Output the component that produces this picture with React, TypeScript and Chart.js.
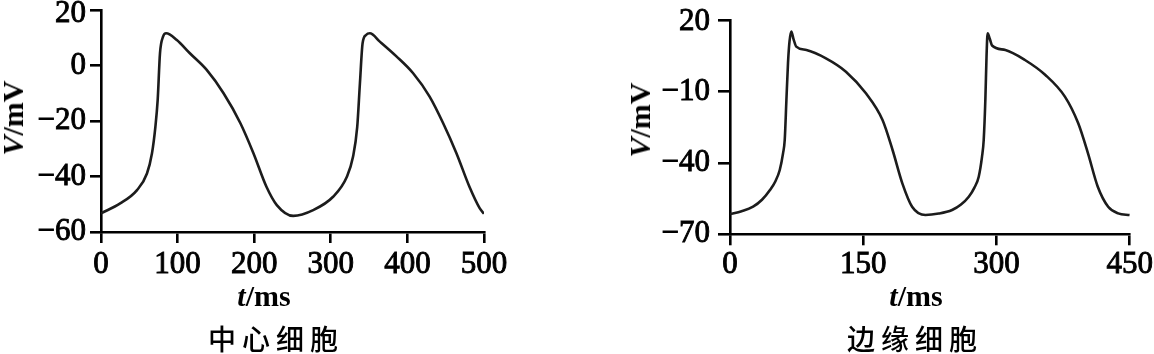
import React, { useEffect, useRef } from 'react';
import { Chart, registerables } from 'chart.js';

Chart.register(...registerables);

// ---- Data: central cell (中心细胞) ----
const centerTimes = [
  0, 25, 47, 60, 66.5, 71, 74, 77, 81, 85, 99, 116, 138, 160, 182, 199, 216, 229.5, 251,
  277, 303, 321, 329, 334.5, 338, 341.5, 346, 351, 364, 386, 407.5, 429, 446.7, 464, 481, 494.5, 500,
];
const centerVoltages = [
  -53.3, -49.7, -44.9, -38.9, -31.7, -22.1, -12.4, 4.4, 10.4, 11.6, 9.2, 4.4, -1.6, -10, -20.8, -31.6, -43.7, -50.3, -54.2,
  -52.1, -47.3, -40.1, -32.9, -22.1, -6.5, 8, 11, 11.6, 8.6, 3.2, -2.8, -11.2, -20.8, -31.6, -43.7, -51.5, -53.4,
];
const centerXTicks = [0, 100, 200, 300, 400, 500];
const centerYTicks = [-60, -40, -20, 0, 20];

// ---- Data: peripheral cell (边缘细胞) ----
const edgeTimes = [
  0, 13, 26, 36, 45, 51, 56, 59.7, 61.6, 63.5, 65.3, 67, 69, 71.5, 74.6, 86, 108, 130.5, 153, 171.7, 183, 194, 205, 220,
  235, 250, 260, 268.8, 275, 280, 283.7, 285.6, 287.5, 288.8, 290, 292.5, 295, 310, 332, 355, 377, 392, 403, 414, 425.7, 437, 450,
];
const edgeVoltages = [
  -61.5, -60.3, -58.4, -55.5, -51.4, -47.8, -43, -36, -30.4, -13.6, 2, 11, 15.1, 12, 8.8, 7.4, 3.9, -1.7, -10.8, -22, -34.6, -48.6, -58.4, -61.9,
  -61.3, -59.8, -57.5, -54.2, -50.5, -45.8, -37.4, -30.4, -13, 5, 14.4, 12, 9.3, 7.4, 3.2, -3.1, -12.2, -23.4, -36, -50, -58.4, -61.2, -61.9,
];
const edgeXTicks = [0, 150, 300, 450];
const edgeYTicks = [-70, -40, -10, 20];

const SERIF = '"Liberation Serif", "Times New Roman", serif';
const CJK = '"Noto Sans CJK SC", "Noto Sans CJK TC", sans-serif';

const fmt = (v: number | string) => String(v).replace('-', '\u2212');

interface PanelProps {
  times: number[];
  volts: number[];
  xTicks: number[];
  yTicks: number[];
  width: number;
  height: number;
  padLeftAxis: number;
  padTop: number;
  padRight: number;
  xAxisHeight: number;
  yTickLen: number;
  yTickPad: number;
  xTickLen: number;
  xTickPad: number;
  topLabelShift: number;
}

function Panel(p: PanelProps) {
  const ref = useRef<HTMLCanvasElement | null>(null);
  useEffect(() => {
    if (!ref.current) return;
    const tickFont = { family: SERIF, size: 31, weight: 'normal' as const };
    const tickCommon = {
      color: '#000',
      font: tickFont,
      textStrokeColor: '#000',
      textStrokeWidth: 0.9,
      autoSkip: false,
      callback: (v: any) => fmt(v),
    };
    // nudges the topmost y tick label slightly downward, as in the original figure
    const shiftTopLabel = {
      id: 'shiftTopLabel',
      beforeDraw(chart: any) {
        const s = chart.scales.y;
        const items = s.getLabelItems(chart.chartArea);
        const last = items[items.length - 1];
        if (last && !last.__shifted) {
          last.options.translation[1] += p.topLabelShift;
          last.__shifted = true;
        }
      },
    };
    const chart = new Chart(ref.current, {
      type: 'line',
      data: {
        datasets: [
          {
            data: p.times.map((t, i) => ({ x: t, y: p.volts[i] })),
            borderColor: '#1c1c1c',
            borderWidth: 2.6,
            pointRadius: 0,
            cubicInterpolationMode: 'monotone',
            fill: false,
          },
        ],
      },
      options: {
        animation: false,
        responsive: false,
        devicePixelRatio: 1,
        layout: { padding: { left: 0, top: p.padTop, right: p.padRight, bottom: 0 } },
        plugins: { legend: { display: false }, tooltip: { enabled: false }, title: { display: false } },
        scales: {
          x: {
            type: 'linear',
            min: p.xTicks[0],
            max: p.xTicks[p.xTicks.length - 1],
            afterBuildTicks: (s: any) => {
              s.ticks = p.xTicks.map((value) => ({ value }));
            },
            afterFit: (s: any) => {
              s.height = p.xAxisHeight;
            },
            border: { display: true, color: '#000', width: 2.6 },
            grid: {
              drawOnChartArea: false,
              drawTicks: true,
              tickLength: p.xTickLen,
              color: '#000',
              lineWidth: 2.6,
            },
            ticks: { ...tickCommon, padding: p.xTickPad, maxRotation: 0 },
          },
          y: {
            type: 'linear',
            min: p.yTicks[0],
            max: p.yTicks[p.yTicks.length - 1],
            afterBuildTicks: (s: any) => {
              s.ticks = p.yTicks.map((value) => ({ value }));
            },
            afterFit: (s: any) => {
              s.width = p.padLeftAxis;
            },
            border: { display: true, color: '#000', width: 2.6 },
            grid: {
              drawOnChartArea: false,
              drawTicks: true,
              tickLength: p.yTickLen,
              color: '#000',
              lineWidth: 2.6,
            },
            ticks: { ...tickCommon, padding: p.yTickPad },
          },
        },
      },
      plugins: [shiftTopLabel],
    } as any);
    return () => chart.destroy();
  }, []);
  return <canvas ref={ref} width={p.width} height={p.height} style={{ display: 'block', width: p.width, height: p.height }} />;
}

const textBase: React.CSSProperties = {
  position: 'absolute',
  lineHeight: 1,
  whiteSpace: 'nowrap',
  color: '#000',
};

function AxisTitleY({ x, y }: { x: number; y: number }) {
  return (
    <div
      style={{
        ...textBase,
        left: x,
        top: y,
        fontFamily: SERIF,
        fontSize: 30,
        fontWeight: 'bold',
        transform: 'translate(-50%,-50%) rotate(-90deg)',
      }}
    >
      <i>V</i>/mV
    </div>
  );
}

function AxisTitleX({ x, y }: { x: number; y: number }) {
  return (
    <div
      style={{
        ...textBase,
        left: x,
        top: y,
        fontFamily: SERIF,
        fontSize: 30,
        fontWeight: 'bold',
        transform: 'translate(-50%,-50%)',
      }}
    >
      <i>t</i>/ms
    </div>
  );
}

function Caption({ x, y, text }: { x: number; y: number; text: string }) {
  return (
    <div
      style={{
        ...textBase,
        left: x + 3,
        top: y,
        fontFamily: CJK,
        fontSize: 28,
        fontWeight: 500,
        letterSpacing: 6,
        transform: 'translate(-50%,-50%)',
      }}
    >
      {text}
    </div>
  );
}

export default function App() {
  return (
    <div
      style={{
        position: 'fixed',
        left: 0,
        top: 0,
        width: 1154,
        height: 354,
        background: '#fff',
        overflow: 'hidden',
      }}
    >
      <div style={{ position: 'absolute', left: 0, top: -30 }}>
        <Panel
          times={centerTimes}
          volts={centerVoltages}
          xTicks={centerXTicks}
          yTicks={centerYTicks}
          width={560}
          height={312}
          padLeftAxis={101}
          padTop={40}
          padRight={76}
          xAxisHeight={50}
          yTickLen={11}
          yTickPad={4}
          xTickLen={11}
          xTickPad={3}
          topLabelShift={3.5}
        />
      </div>
      <div style={{ position: 'absolute', left: 600, top: -30 }}>
        <Panel
          times={edgeTimes}
          volts={edgeVoltages}
          xTicks={edgeXTicks}
          yTicks={edgeYTicks}
          width={554}
          height={312}
          padLeftAxis={130}
          padTop={50}
          padRight={22}
          xAxisHeight={47.7}
          yTickLen={12}
          yTickPad={8}
          xTickLen={11}
          xTickPad={1}
          topLabelShift={1.5}
        />
      </div>
      <AxisTitleY x={13} y={118} />
      <AxisTitleY x={640} y={120} />
      <AxisTitleX x={264} y={296} />
      <AxisTitleX x={916} y={296} />
      <Caption x={273} y={338} text="中心细胞" />
      <Caption x={912} y={338} text="边缘细胞" />
    </div>
  );
}
